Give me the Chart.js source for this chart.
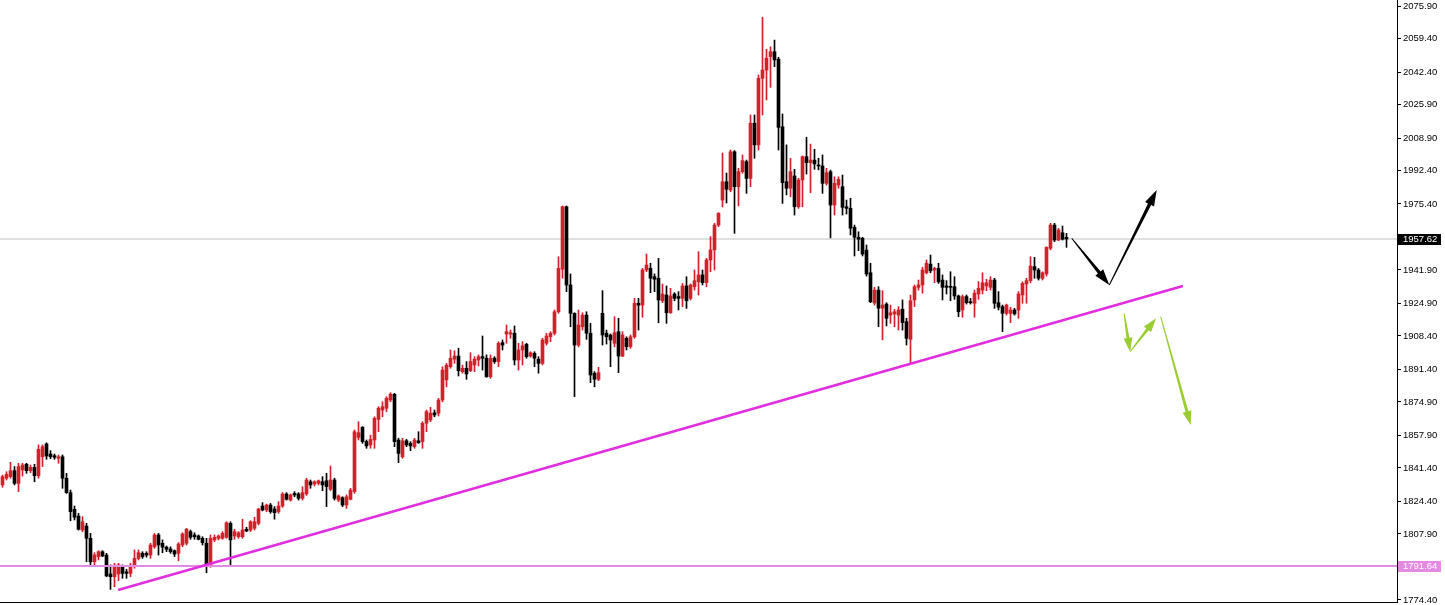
<!DOCTYPE html>
<html>
<head>
<meta charset="utf-8">
<script src="https://cdn.jsdelivr.net/npm/chart.js@4.4.1/dist/chart.umd.min.js"></script>
<style>
html, body { margin: 0; padding: 0; background: #fff; overflow: hidden; }
canvas { display: block; }
</style>
</head>
<body>
<canvas id="chart" width="1445" height="605"></canvas>
<script>
// candle values, one entry per bar, left to right
const opens = [
    1832.8, 1836.2, 1837.0, 1840.0, 1833.6, 1840.4, 1843.3, 1840.0, 1841.7, 1837.5,
    1847.1, 1853.6, 1848.5, 1847.6, 1846.3, 1847.1, 1836.2, 1828.9, 1820.4, 1817.0,
    1809.9, 1811.9, 1805.7, 1793.8, 1796.4, 1798.9, 1797.2, 1787.6, 1786.2, 1787.6,
    1791.3, 1788.7, 1787.9, 1791.3, 1795.5, 1798.1, 1798.1, 1797.2, 1801.4, 1807.4,
    1803.2, 1801.2, 1800.3, 1799.4, 1798.1, 1802.3, 1803.2, 1809.1, 1807.4, 1806.9,
    1805.7, 1803.2, 1791.6, 1804.9, 1805.7, 1805.7, 1806.2, 1813.3, 1806.9, 1806.5,
    1806.5, 1810.3, 1809.9, 1810.8, 1813.3, 1822.1, 1820.1, 1822.6, 1820.6, 1819.2,
    1822.1, 1828.2, 1825.1, 1828.5, 1828.2, 1826.0, 1828.2, 1834.4, 1833.3, 1833.6,
    1834.4, 1834.9, 1830.6, 1835.3, 1825.1, 1826.3, 1822.6, 1825.5, 1829.4, 1856.9,
    1862.1, 1854.8, 1853.1, 1855.6, 1866.1, 1870.8, 1871.7, 1875.9, 1878.8, 1855.6,
    1847.1, 1855.2, 1853.9, 1852.2, 1855.2, 1854.8, 1864.1, 1865.8, 1869.4, 1869.2,
    1875.9, 1886.1, 1892.8, 1896.6, 1898.2, 1890.3, 1892.0, 1890.8, 1893.7, 1896.2,
    1897.9, 1897.1, 1887.7, 1897.1, 1895.4, 1905.0, 1909.4, 1909.4, 1909.8, 1896.2,
    1901.3, 1904.2, 1898.2, 1899.6, 1896.6, 1894.5, 1904.7, 1908.0, 1909.8, 1920.7,
    1942.3, 1974.0, 1934.3, 1919.9, 1903.8, 1913.1, 1919.0, 1909.8, 1889.5, 1886.4,
    1919.9, 1909.8, 1908.9, 1904.7, 1910.6, 1898.2, 1907.2, 1903.0, 1908.0, 1925.0,
    1924.1, 1941.9, 1942.7, 1938.5, 1937.7, 1926.3, 1929.2, 1920.2, 1929.7, 1928.4,
    1927.5, 1933.8, 1927.5, 1933.4, 1935.9, 1939.4, 1935.5, 1947.0, 1952.1, 1964.7,
    1977.4, 1986.7, 1982.5, 2001.9, 1984.2, 1991.8, 1996.9, 1988.4, 2016.4, 2005.4,
    2039.2, 2043.4, 2050.2, 2052.7, 2048.9, 2014.6, 1986.7, 1983.4, 1989.6, 1974.0,
    1987.6, 1999.4, 1996.4, 1997.7, 1995.0, 1994.7, 1985.9, 1991.8, 1974.9, 1985.0,
    1984.2, 1974.0, 1973.2, 1963.6, 1958.5, 1958.0, 1952.0, 1940.5, 1925.1, 1931.7,
    1922.5, 1924.6, 1919.0, 1919.6, 1919.0, 1922.0, 1915.7, 1906.7, 1926.7, 1933.1,
    1934.3, 1940.5, 1944.9, 1941.9, 1942.7, 1936.8, 1933.8, 1933.4, 1933.4, 1928.7,
    1921.6, 1928.4, 1925.8, 1925.0, 1929.7, 1931.7, 1933.8, 1933.1, 1936.8, 1925.3,
    1923.3, 1919.9, 1919.9, 1921.6, 1921.6, 1929.2, 1934.8, 1936.5, 1943.6, 1941.9,
    1937.7, 1939.9, 1952.9, 1964.7, 1957.1, 1960.8, 1958.5
];
const highs = [
    1837.8, 1839.5, 1844.3, 1842.1, 1843.8, 1843.8, 1843.8, 1842.9, 1843.3, 1853.1,
    1853.1, 1854.2, 1850.2, 1848.5, 1848.0, 1848.0, 1838.7, 1830.2, 1822.1, 1818.4,
    1816.7, 1813.3, 1808.2, 1798.4, 1799.4, 1799.4, 1798.1, 1792.2, 1793.0, 1793.0,
    1792.2, 1790.0, 1793.0, 1799.8, 1799.8, 1798.9, 1798.9, 1803.2, 1808.2, 1808.2,
    1804.9, 1801.8, 1801.4, 1799.8, 1803.5, 1808.5, 1810.8, 1809.9, 1808.5, 1807.4,
    1806.5, 1805.7, 1807.4, 1807.4, 1807.4, 1809.1, 1814.1, 1814.1, 1810.3, 1809.1,
    1815.4, 1811.3, 1814.6, 1816.4, 1820.9, 1823.8, 1823.1, 1823.4, 1821.8, 1824.3,
    1828.9, 1828.9, 1828.2, 1829.4, 1828.9, 1831.9, 1836.2, 1835.3, 1834.9, 1835.3,
    1837.0, 1838.7, 1842.4, 1836.2, 1827.7, 1826.8, 1827.7, 1831.1, 1860.7, 1864.9,
    1862.4, 1855.6, 1858.1, 1867.4, 1872.5, 1875.0, 1877.6, 1879.6, 1879.3, 1856.5,
    1856.5, 1855.9, 1854.8, 1856.5, 1859.8, 1864.9, 1870.8, 1872.2, 1870.8, 1876.8,
    1892.8, 1894.5, 1901.3, 1900.9, 1902.2, 1893.6, 1895.4, 1899.9, 1897.9, 1898.8,
    1908.4, 1898.8, 1898.8, 1897.9, 1905.5, 1906.4, 1914.0, 1911.4, 1913.5, 1904.7,
    1905.5, 1904.7, 1900.4, 1900.4, 1897.9, 1907.2, 1909.8, 1910.6, 1921.6, 1948.6,
    1974.4, 1974.4, 1939.9, 1920.2, 1921.6, 1920.2, 1920.7, 1914.8, 1890.3, 1892.5,
    1931.4, 1911.4, 1909.4, 1918.2, 1917.4, 1910.6, 1908.0, 1908.9, 1927.5, 1927.5,
    1942.7, 1950.0, 1945.3, 1939.9, 1947.8, 1934.8, 1933.8, 1932.6, 1930.4, 1930.9,
    1935.1, 1938.5, 1934.8, 1941.9, 1951.2, 1941.9, 1947.8, 1958.8, 1965.6, 1971.0,
    2001.3, 1991.1, 2002.8, 2002.5, 1993.5, 2000.3, 1997.7, 2020.6, 2020.6, 2040.9,
    2070.2, 2053.9, 2055.2, 2058.6, 2049.9, 2021.1, 2005.4, 1998.6, 1993.0, 1988.4,
    1999.8, 2009.3, 2005.8, 2003.2, 1998.6, 2000.3, 1993.5, 1992.6, 1989.2, 1989.2,
    1990.1, 1977.4, 1978.3, 1964.7, 1961.3, 1958.5, 1954.6, 1945.3, 1933.1, 1933.4,
    1931.4, 1925.3, 1924.1, 1921.9, 1923.3, 1926.7, 1917.4, 1929.2, 1934.3, 1936.8,
    1943.3, 1947.0, 1949.5, 1943.3, 1945.3, 1939.4, 1936.5, 1941.0, 1938.5, 1929.2,
    1929.2, 1929.2, 1927.5, 1931.7, 1936.0, 1940.5, 1937.2, 1938.5, 1937.7, 1930.9,
    1924.1, 1924.6, 1923.0, 1922.4, 1930.9, 1935.9, 1937.7, 1948.6, 1948.3, 1942.7,
    1941.0, 1953.7, 1965.6, 1965.6, 1963.0, 1964.2, 1960.5
];
const lows = [
    1831.6, 1835.3, 1836.2, 1832.8, 1829.4, 1837.3, 1838.7, 1839.0, 1834.4, 1836.2,
    1842.1, 1845.8, 1846.1, 1845.8, 1843.8, 1831.1, 1828.5, 1814.6, 1815.0, 1809.9,
    1809.0, 1793.8, 1791.3, 1791.6, 1794.7, 1796.4, 1786.2, 1779.8, 1781.1, 1784.2,
    1785.4, 1785.4, 1786.2, 1790.5, 1794.7, 1795.5, 1796.1, 1795.5, 1800.6, 1797.2,
    1798.4, 1798.9, 1798.1, 1796.4, 1794.3, 1801.4, 1802.3, 1805.2, 1805.2, 1804.9,
    1802.3, 1788.2, 1791.0, 1804.0, 1804.9, 1805.2, 1805.7, 1792.2, 1805.2, 1805.7,
    1805.7, 1809.1, 1809.1, 1809.9, 1812.5, 1819.6, 1819.2, 1818.4, 1815.4, 1818.4,
    1821.4, 1825.1, 1824.6, 1826.8, 1825.1, 1825.1, 1827.5, 1831.1, 1832.3, 1832.8,
    1829.9, 1821.8, 1829.9, 1825.1, 1824.3, 1821.8, 1820.9, 1825.2, 1828.5, 1855.6,
    1853.9, 1851.4, 1851.4, 1851.4, 1859.8, 1867.4, 1870.0, 1875.0, 1852.2, 1844.1,
    1846.3, 1852.2, 1850.2, 1851.4, 1853.9, 1851.4, 1859.8, 1864.9, 1867.4, 1867.8,
    1875.0, 1882.6, 1892.0, 1894.5, 1888.1, 1889.5, 1886.4, 1890.3, 1890.3, 1893.2,
    1891.1, 1887.4, 1886.9, 1894.5, 1892.8, 1901.3, 1904.7, 1907.2, 1893.7, 1891.1,
    1893.7, 1897.1, 1897.6, 1892.8, 1889.5, 1893.7, 1903.8, 1905.5, 1908.9, 1919.9,
    1937.7, 1930.9, 1913.1, 1877.6, 1902.9, 1911.4, 1906.7, 1884.7, 1882.6, 1885.7,
    1903.8, 1904.3, 1892.8, 1902.9, 1889.8, 1897.9, 1901.3, 1902.1, 1907.2, 1911.4,
    1917.9, 1941.0, 1930.4, 1930.9, 1915.1, 1925.3, 1914.8, 1919.9, 1926.3, 1921.6,
    1923.3, 1922.4, 1926.7, 1931.7, 1929.2, 1934.3, 1933.4, 1941.0, 1941.9, 1963.9,
    1973.9, 1975.9, 1981.6, 1960.5, 1974.4, 1991.0, 1980.8, 1984.2, 1998.6, 2002.8,
    2020.6, 2028.2, 2034.6, 2045.1, 2002.8, 1975.7, 1980.0, 1979.1, 1969.8, 1973.2,
    1974.0, 1990.6, 1981.1, 1993.0, 1992.7, 1980.8, 1985.0, 1958.2, 1969.8, 1983.4,
    1969.8, 1970.3, 1959.7, 1949.0, 1951.7, 1949.0, 1938.8, 1925.3, 1924.1, 1913.1,
    1906.4, 1913.5, 1914.8, 1913.1, 1911.4, 1911.4, 1903.8, 1894.5, 1923.3, 1931.7,
    1930.1, 1939.9, 1940.5, 1935.5, 1935.1, 1926.7, 1929.7, 1926.3, 1927.0, 1918.2,
    1917.9, 1924.6, 1924.6, 1917.9, 1927.0, 1929.7, 1931.4, 1931.7, 1922.4, 1921.6,
    1910.6, 1919.0, 1915.2, 1919.0, 1917.4, 1925.0, 1925.0, 1935.4, 1937.7, 1936.8,
    1936.8, 1938.8, 1952.1, 1956.3, 1956.8, 1957.1, 1953.4
];
const closes = [
    1837.0, 1838.2, 1840.0, 1833.6, 1842.1, 1842.9, 1840.0, 1841.7, 1837.5, 1850.9,
    1852.2, 1847.5, 1847.1, 1846.8, 1847.1, 1836.2, 1828.9, 1819.2, 1816.4, 1810.3,
    1814.1, 1805.7, 1793.8, 1797.2, 1798.9, 1796.7, 1786.6, 1786.2, 1791.0, 1792.2,
    1787.9, 1787.9, 1791.6, 1795.5, 1798.4, 1796.4, 1797.2, 1802.3, 1807.4, 1802.3,
    1801.2, 1800.1, 1798.9, 1797.7, 1802.8, 1807.9, 1810.3, 1806.2, 1806.5, 1805.2,
    1803.5, 1791.3, 1805.7, 1806.2, 1806.9, 1808.2, 1813.6, 1804.9, 1809.1, 1808.5,
    1809.9, 1809.4, 1814.1, 1814.1, 1820.6, 1820.1, 1822.6, 1819.2, 1818.7, 1822.1,
    1828.2, 1825.5, 1827.7, 1827.7, 1826.0, 1828.9, 1835.3, 1832.8, 1834.4, 1834.9,
    1832.8, 1831.9, 1835.3, 1826.0, 1827.2, 1822.6, 1826.8, 1830.2, 1859.8, 1859.3,
    1854.8, 1852.6, 1855.9, 1866.6, 1871.7, 1872.5, 1876.8, 1878.9, 1854.8, 1848.8,
    1855.2, 1853.1, 1852.6, 1855.6, 1854.2, 1864.1, 1870.0, 1869.2, 1868.3, 1875.9,
    1891.1, 1893.6, 1897.1, 1898.2, 1890.8, 1892.0, 1889.1, 1895.4, 1896.6, 1897.9,
    1897.1, 1887.7, 1897.1, 1895.4, 1904.7, 1903.8, 1910.6, 1910.1, 1896.2, 1901.3,
    1903.4, 1897.9, 1899.9, 1897.1, 1894.5, 1906.4, 1908.4, 1909.8, 1920.7, 1942.7,
    1974.0, 1934.3, 1919.9, 1903.8, 1914.0, 1919.0, 1909.8, 1888.6, 1886.4, 1889.8,
    1908.9, 1908.0, 1906.4, 1910.1, 1898.2, 1908.9, 1903.0, 1908.0, 1925.0, 1924.1,
    1941.9, 1944.4, 1937.7, 1937.2, 1926.7, 1929.7, 1920.2, 1928.7, 1927.5, 1927.5,
    1933.8, 1926.3, 1934.3, 1936.5, 1939.4, 1935.5, 1947.0, 1952.1, 1964.7, 1970.7,
    1986.7, 1982.9, 2001.9, 1984.2, 1991.8, 1997.4, 1988.4, 2016.4, 2005.4, 2039.2,
    2043.4, 2049.4, 2052.7, 2048.5, 2014.3, 1986.2, 1983.4, 1991.8, 1974.0, 1987.6,
    1999.4, 1996.4, 1997.7, 1995.7, 1994.7, 1985.9, 1991.3, 1974.9, 1985.9, 1987.9,
    1973.7, 1973.2, 1963.1, 1958.5, 1957.5, 1950.0, 1939.9, 1925.8, 1931.7, 1922.5,
    1924.1, 1917.4, 1920.2, 1920.7, 1921.6, 1915.2, 1907.2, 1926.3, 1933.4, 1934.3,
    1941.9, 1945.3, 1941.5, 1942.7, 1935.9, 1933.1, 1933.1, 1933.1, 1928.7, 1920.7,
    1928.4, 1925.3, 1925.3, 1930.1, 1932.6, 1935.4, 1935.4, 1936.8, 1925.0, 1923.0,
    1919.9, 1924.1, 1921.6, 1919.6, 1929.7, 1935.1, 1936.5, 1943.9, 1941.9, 1937.7,
    1940.5, 1953.4, 1964.7, 1957.1, 1962.2, 1957.5, 1957.6
];

// price scale labels as the terminal prints them
const tickValues = [2075.90, 2059.40, 2042.40, 2025.90, 2008.90, 1992.40, 1975.40, 1958.40,
    1941.90, 1924.90, 1908.40, 1891.40, 1874.90, 1857.90, 1841.40, 1824.40, 1807.90, 1790.90, 1774.40];

const lastPrice = 1957.62;
const supportPrice = 1791.64;

// trend line, [bar index, price]
const trendLine = [[28.9, 1779.5], [295.1, 1933.8]];

// hand drawn arrows, each [from, to] as [bar index, price]
const blackArrows = [
    [[267.3, 1958.0], [276.7, 1934.3]],
    [[276.7, 1934.3], [288.55, 1982.5]]
];
const greenArrows = [
    [[280.4, 1919.9], [281.9, 1900.4]],
    [[281.9, 1900.4], [288.4, 1917.4]],
    [[289.55, 1918.2], [297.05, 1863.2]]
];

const priceMin = 1773.37;
const priceMax = 2078.95;
const barMin = -0.625;
const barMax = 348.625;

const bullColor = '#d4202a';
const bearColor = '#000000';

const candleColors = opens.map((o, i) => closes[i] >= o ? bullColor : bearColor);
const wickData = opens.map((o, i) => ({ x: i, y: [lows[i], highs[i]] }));
const bodyData = opens.map((o, i) => ({ x: i, y: [o, closes[i]] }));

function drawArrow(ctx, x0, y0, x1, y1, color, w0, w1, headLen, headW) {
    const dx = x1 - x0, dy = y1 - y0;
    const len = Math.hypot(dx, dy);
    const ux = dx / len, uy = dy / len;
    const nx = -uy, ny = ux;
    const bx = x1 - ux * headLen, by = y1 - uy * headLen;
    ctx.fillStyle = color;
    ctx.beginPath();
    ctx.moveTo(x0 + nx * w0 / 2, y0 + ny * w0 / 2);
    ctx.lineTo(bx + nx * w1 / 2, by + ny * w1 / 2);
    ctx.lineTo(bx + nx * headW, by + ny * headW);
    ctx.lineTo(x1, y1);
    ctx.lineTo(bx - nx * headW, by - ny * headW);
    ctx.lineTo(bx - nx * w1 / 2, by - ny * w1 / 2);
    ctx.lineTo(x0 - nx * w0 / 2, y0 - ny * w0 / 2);
    ctx.closePath();
    ctx.fill();
}

function priceTag(ctx, yScale, price, fill, textColor) {
    const py = Math.round(yScale.getPixelForValue(price));
    const left = yScale.left + 1;
    ctx.fillStyle = fill;
    ctx.fillRect(left, py - 5, 43, 11);
    ctx.fillStyle = textColor;
    ctx.font = '9.5px "Liberation Sans", Arial, sans-serif';
    ctx.textAlign = 'left';
    ctx.textBaseline = 'middle';
    ctx.fillText(price.toFixed(2), left + 5, py + 0.5);
}

const overlay = {
    id: 'overlay',
    afterDatasetsDraw(chart) {
        const { ctx, chartArea, scales } = chart;
        const x = scales.x, y = scales.y;
        ctx.save();
        ctx.beginPath();
        ctx.rect(chartArea.left, chartArea.top, chartArea.width, chartArea.height);
        ctx.clip();
        blackArrows.forEach(a => {
            drawArrow(ctx, x.getPixelForValue(a[0][0]), y.getPixelForValue(a[0][1]),
                x.getPixelForValue(a[1][0]), y.getPixelForValue(a[1][1]), '#000', 1, 3.5, 16, 5);
        });
        greenArrows.forEach(a => {
            drawArrow(ctx, x.getPixelForValue(a[0][0]), y.getPixelForValue(a[0][1]),
                x.getPixelForValue(a[1][0]), y.getPixelForValue(a[1][1]), '#9acd32', 1, 3, 14, 4.5);
        });
        ctx.restore();
    },
    afterDraw(chart) {
        const { ctx, chartArea, scales } = chart;
        ctx.save();
        ctx.fillStyle = '#000';
        ctx.fillRect(0, chartArea.bottom, chartArea.right + 1, 1);
        priceTag(ctx, scales.y, lastPrice, '#000', '#fff');
        priceTag(ctx, scales.y, supportPrice, '#e38ae3', '#fff');
        ctx.restore();
    }
};

new Chart(document.getElementById('chart'), {
    type: 'bar',
    data: {
        datasets: [
            {
                label: 'Trend',
                type: 'line',
                data: trendLine.map(p => ({ x: p[0], y: p[1] })),
                borderColor: '#e02ee0',
                borderWidth: 2.5,
                pointRadius: 0,
                order: -2
            },
            {
                label: 'Support',
                type: 'line',
                data: [{ x: barMin, y: supportPrice }, { x: barMax, y: supportPrice }],
                borderColor: '#e38ae3',
                borderWidth: 2,
                pointRadius: 0,
                order: -1
            },
            {
                label: 'Bodies',
                data: bodyData,
                backgroundColor: candleColors,
                barThickness: 3,
                minBarLength: 1,
                grouped: false,
                borderWidth: 0,
                order: 1
            },
            {
                label: 'Wicks',
                data: wickData,
                backgroundColor: candleColors,
                barThickness: 1,
                grouped: false,
                borderWidth: 0,
                order: 2
            },
            {
                label: 'Last',
                type: 'line',
                data: [{ x: barMin, y: lastPrice }, { x: barMax, y: lastPrice }],
                borderColor: '#c0c0c0',
                borderWidth: 1,
                pointRadius: 0,
                order: 5
            }
        ]
    },
    options: {
        responsive: false,
        animation: false,
        devicePixelRatio: 1,
        layout: { padding: { left: 0, top: 0, right: 0, bottom: 3 } },
        plugins: { legend: { display: false }, tooltip: { enabled: false } },
        scales: {
            x: {
                type: 'linear',
                min: barMin,
                max: barMax,
                offset: false,
                display: false
            },
            y: {
                position: 'right',
                min: priceMin,
                max: priceMax,
                afterFit(scale) {
                    scale.width = 48;
                    scale.paddingTop = 0;
                    scale.paddingBottom = 0;
                },
                afterBuildTicks(scale) {
                    scale.ticks = tickValues.map(v => ({ value: v }));
                },
                grid: { drawOnChartArea: false, drawTicks: true, tickLength: 4, color: '#000' },
                border: { display: true, color: '#000', width: 1 },
                ticks: {
                    autoSkip: false,
                    padding: 2,
                    color: '#000',
                    font: { family: '"Liberation Sans", Arial, sans-serif', size: 9.5 },
                    callback: v => v.toFixed(2)
                }
            }
        }
    },
    plugins: [overlay]
});
</script>
</body>
</html>
